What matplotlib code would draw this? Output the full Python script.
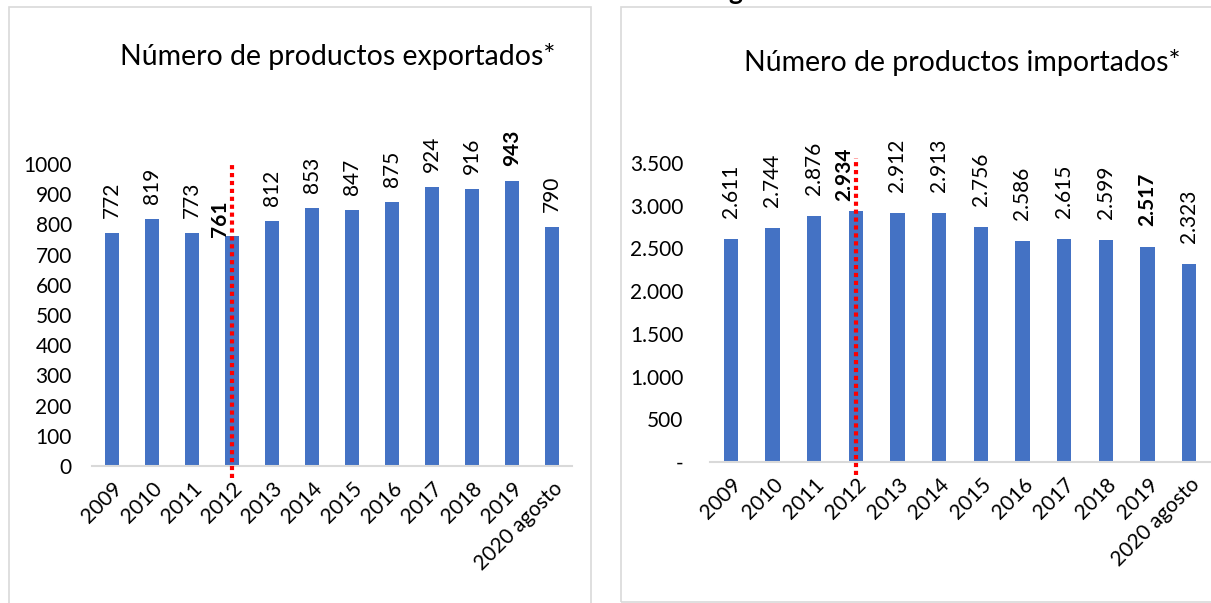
import matplotlib
matplotlib.use("Agg")
import matplotlib.pyplot as plt
from matplotlib.patches import Rectangle

categories = ["2009", "2010", "2011", "2012", "2013", "2014", "2015",
              "2016", "2017", "2018", "2019", "2020 agosto"]
exportados = [772, 819, 773, 761, 812, 853, 847, 875, 924, 916, 943, 790]
importados = [2611, 2744, 2876, 2934, 2912, 2913, 2756, 2586, 2615, 2599, 2517, 2323]
export_ticks = [0, 100, 200, 300, 400, 500, 600, 700, 800, 900, 1000]
import_ticks = [0, 500, 1000, 1500, 2000, 2500, 3000, 3500]
import_tick_labels = ["-", "500", "1.000", "1.500", "2.000", "2.500", "3.000", "3.500"]
title_exp = "Número de productos exportados*"
title_imp = "Número de productos importados*"
marker_category = "2012"
bold_exp = {"2012", "2019"}
bold_imp = {"2012", "2019"}

W, H = 1211, 603
FONT = "Lato"
plt.rcParams["font.family"] = [FONT, "DejaVu Sans"]
BLUE = "#4472C4"
GRAY = "#D9D9D9"
FS = 15

fig = plt.figure(figsize=(W / 100, H / 100), dpi=100)

def fx(px):
    return px / W

def fy(py):
    return 1 - py / H

# panel borders
fig.add_artist(Rectangle((fx(8.5), fy(640)), fx(582), (640 - 6.5) / H,
                         transform=fig.transFigure, fill=False, ec=GRAY, lw=1.2))
fig.add_artist(Rectangle((fx(620.5), fy(601.5)), fx(700), (601.5 - 6.5) / H,
                         transform=fig.transFigure, fill=False, ec=GRAY, lw=1.2))

# cut-off bold fragment at top (part of a heading outside the crop)
fig.text(fx(735), fy(-0.5), "g", fontsize=19, fontweight="bold", ha="center",
         va="baseline", color="black")

def fmt_dot(v):
    return f"{v:,}".replace(",", ".")

def draw(ax_rect, values, yticks, yticklabels, ymax, title, title_xy, bold_set,
         label_fmt, normal_off, special_off, pad, line_ext):
    ax = fig.add_axes(ax_rect)
    x = list(range(len(categories)))
    ax.bar(x, values, width=0.35, color=BLUE, zorder=2)
    ax.set_xlim(-0.5, len(categories) - 0.5)
    ax.set_ylim(0, ymax)
    for s in ["top", "right", "left"]:
        ax.spines[s].set_visible(False)
    ax.spines["bottom"].set_color(GRAY)
    ax.spines["bottom"].set_linewidth(1.5)
    ax.set_yticks(yticks)
    ax.set_yticklabels(yticklabels, fontsize=FS)
    ax.tick_params(axis="y", length=0, pad=pad)
    ax.tick_params(axis="x", length=0, pad=9)
    ax.set_xticks(x)
    ax.set_xticklabels(categories, fontsize=FS, rotation=45, ha="right",
                       va="top", rotation_mode="anchor")
    for i, (c, v) in enumerate(zip(categories, values)):
        bold = c in bold_set
        off = special_off.get(c, normal_off)
        ax.annotate(label_fmt(v), (i, v), xytext=(off[0] * 0.72, off[1] * 0.72),
                    textcoords="offset points", rotation=90, ha="center",
                    va="bottom", fontsize=FS,
                    fontweight="bold" if bold else "normal",
                    annotation_clip=False, zorder=4)
    mi = categories.index(marker_category)
    ax.axvline(mi, ymin=line_ext[0], ymax=line_ext[1], color="#FF0000", lw=3.0,
               linestyle=(0, (1, 0.9)), dash_capstyle="butt", clip_on=False,
               zorder=3)
    fig.text(fx(title_xy[0]), fy(title_xy[1]), title, fontsize=20.5,
             ha="center", va="center")
    return ax

draw([fx(92), fy(466), fx(480), 302 / H], exportados, export_ticks,
     [str(t) for t in export_ticks], 1000, title_exp, (338, 57), bold_exp,
     lambda v: str(v), (0, 15), {"2012": (-12, -1)}, 14.5, (-0.04, 1.003))

draw([fx(710), fy(462), fx(500), 299 / H], importados, import_ticks,
     import_tick_labels, 3500, title_imp, (962, 62), bold_imp,
     fmt_dot, (0, 21), {"2012": (-12, 10)}, 19, (-0.043, 1.017))

fig.savefig("out.png", dpi=100)
